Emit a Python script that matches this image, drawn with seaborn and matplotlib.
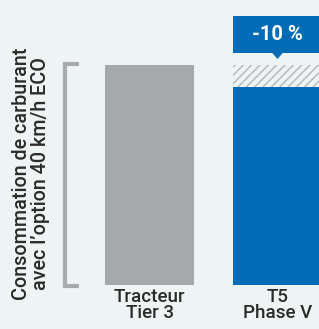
import matplotlib
matplotlib.use("Agg")
import matplotlib.pyplot as plt
import seaborn as sns
import pandas as pd
from matplotlib.patches import Rectangle, Polygon
import matplotlib.transforms as mtransforms

categories = ["Tracteur\nTier 3", "T5\nPhase V"]
values = [100, 90]
reference_value = 100
badge_text = "-10 %"
ylabel_text = "Consommation de carburant\navec l’option 40 km/h ECO"

bg = "#eef3f4"
gray = "#a7a8ab"
blue = "#006bb6"
text_col = "#2b2b2b"

sns.set_theme(style="white")
plt.rcParams["font.family"] = ["Roboto", "DejaVu Sans"]
plt.rcParams["hatch.linewidth"] = 1.0
plt.rcParams["hatch.color"] = "#b4b6b8"

W, H = 319, 329
fig = plt.figure(figsize=(W / 100, H / 100), dpi=100)
fig.patch.set_facecolor(bg)

ax = fig.add_axes([0, (H - 285) / H, 1, 285 / H])
ax.set_facecolor(bg)

df = pd.DataFrame({"cat": categories, "val": values})
bar_w = 0.695
sns.barplot(data=df, x="cat", y="val", hue="cat", palette=[gray, blue],
            width=bar_w, ax=ax, legend=False, saturation=1, linewidth=0)

ax.bar(1, reference_value - values[1], bottom=values[1], width=bar_w,
       facecolor="none", edgecolor="#b4b6b8", hatch="////", linewidth=0)

px_per_unit = 128.0
ax.set_xlim(-149.5 / px_per_unit, (319 - 149.5) / px_per_unit)
ax.set_ylim(0, 285 / 2.2)

x0 = 1 - bar_w / 2
x1 = 1 + bar_w / 2
y_box0 = (285 - 53) / 2.2
y_box1 = (285 - 16) / 2.2
ax.add_patch(Rectangle((x0, y_box0), x1 - x0, y_box1 - y_box0,
                       facecolor=blue, edgecolor="none", clip_on=False))
tip_y = (285 - 59) / 2.2
ax.add_patch(Polygon([[1 - 0.045, y_box0 + 0.3], [1 + 0.045, y_box0 + 0.3], [1, tip_y]],
                     closed=True, facecolor=blue, edgecolor="none", clip_on=False))
ax.text(1, (y_box0 + y_box1) / 2, badge_text, color="white", fontsize=14.5,
        fontweight="bold", ha="center", va="center")

trans = mtransforms.blended_transform_factory(fig.transFigure, ax.transData)
bx0 = 65 / W
bx1 = 79 / W
ax.plot([bx1, bx0, bx0, bx1], [reference_value + 0.6, reference_value + 0.6, -0.4, -0.4],
        color="#a8a9ad", lw=3, transform=trans, clip_on=False, solid_joinstyle="miter",
        solid_capstyle="butt")

ax.set_xlabel("")
ax.set_ylabel("")
ax.set_yticks([])
ax.set_xticks([0, 1])
ax.set_xticklabels(categories, fontsize=13.5, color=text_col, linespacing=0.88,
                   fontweight="medium")
ax.tick_params(axis="x", length=0, pad=2)
for s in ax.spines.values():
    s.set_visible(False)

fig.text(31 / W, 1 - 174 / H, ylabel_text, rotation=90, ha="center", va="center",
         fontsize=14.2, color=text_col, multialignment="center", linespacing=0.98,
         fontweight="medium")

fig.savefig("out.png", dpi=100, facecolor=bg)
